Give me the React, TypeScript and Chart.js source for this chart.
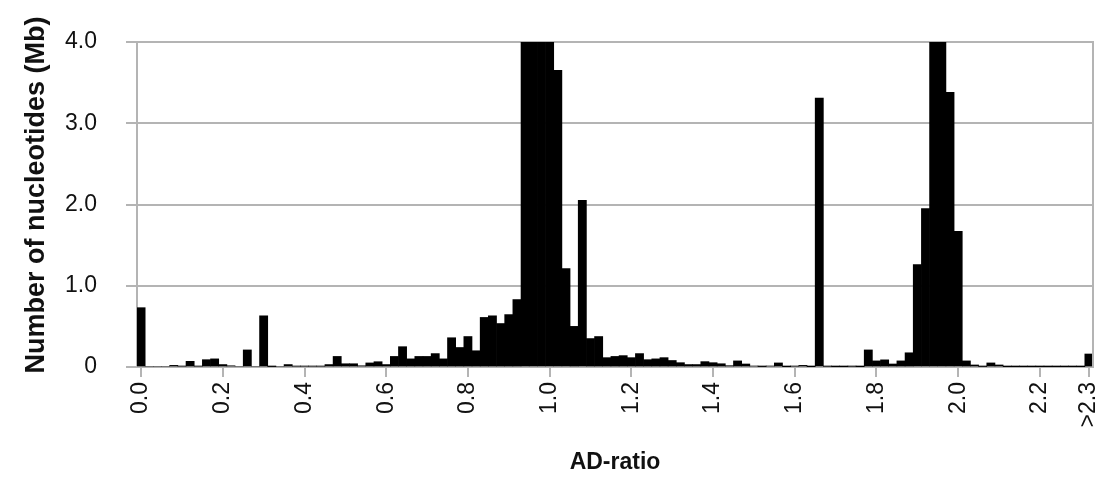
import React, { useEffect, useRef } from "react";
import { Chart, registerables } from "chart.js";

Chart.register(...registerables);

// AD-ratio bins of width 0.02 from 0.00 to 2.30, plus an overflow bin ">2.3"
const categories: string[] = [...Array(116).keys()]
  .map((i) => (i * 0.02).toFixed(2))
  .concat([">2.3"]);

// Number of nucleotides (Mb) per bin
const nucleotidesMb: number[] = [
  0.73, 0, 0, 0, 0.02, 0.01, 0.07, 0.01, 0.09, 0.1,
  0.03, 0.015, 0, 0.21, 0, 0.63, 0.005, 0, 0.03, 0.01,
  0.01, 0.01, 0.01, 0.03, 0.13, 0.04, 0.04, 0.015, 0.05, 0.065,
  0.03, 0.13, 0.25, 0.1, 0.13, 0.13, 0.165, 0.1, 0.36, 0.24,
  0.375, 0.2, 0.61, 0.63, 0.535, 0.645, 0.83, 4.6, 5.9, 5.5,
  4.8, 3.65, 1.21, 0.5, 2.05, 0.35, 0.375, 0.115, 0.13, 0.14,
  0.115, 0.165, 0.09, 0.1, 0.115, 0.08, 0.053, 0.03, 0.03, 0.066,
  0.053, 0.04, 0.016, 0.075, 0.037, 0.012, 0.005, 0.012, 0.05, 0.004,
  0.01, 0.02, 0.003, 3.31, 0.008, 0.003, 0.003, 0.008, 0.004, 0.21,
  0.075, 0.088, 0.037, 0.075, 0.175, 1.26, 1.95, 4.9, 4.3, 3.38,
  1.67, 0.075, 0.025, 0.006, 0.05, 0.025, 0.004, 0.002, 0.004, 0.004,
  0.004, 0.002, 0.004, 0.004, 0.004, 0.004, 0.16,
];

// Which categories carry a tick label, and the label text
const tickIndices: number[] = [0, 10, 20, 30, 40, 50, 60, 70, 80, 90, 100, 110, 116];
const tickTexts: string[] = ["0.0", "0.2", "0.4", "0.6", "0.8", "1.0", "1.2", "1.4", "1.6", "1.8", "2.0", "2.2", ">2.3"];

const yTickValues: number[] = [0, 1, 2, 3, 4];
const yTickTexts: string[] = ["0", "1.0", "2.0", "3.0", "4.0"];

const yTitle = "Number of nucleotides (Mb)";
const xTitle = "AD-ratio";

const GRAY = "#b4b4b4";
const FONT = "'Liberation Sans', Arial, sans-serif";

const frameBorder = {
  id: "frameBorder",
  afterDatasetsDraw(chart: any) {
    const { ctx, chartArea } = chart;
    ctx.save();
    ctx.strokeStyle = GRAY;
    ctx.lineWidth = 2;
    ctx.beginPath();
    ctx.moveTo(chartArea.right, chartArea.top - 1);
    ctx.lineTo(chartArea.right, chartArea.bottom);
    ctx.stroke();
    ctx.restore();
  },
  afterDraw(chart: any) {
    const { ctx } = chart;
    ctx.save();
    ctx.translate(37, 195);
    ctx.rotate(-Math.PI / 2);
    ctx.font = `bold 27px ${FONT}`;
    ctx.fillStyle = "#111";
    ctx.textAlign = "center";
    ctx.textBaseline = "middle";
    ctx.fillText(yTitle, 0, 0);
    ctx.restore();
  },
};

export default function App() {
  const ref = useRef<HTMLCanvasElement | null>(null);

  useEffect(() => {
    if (!ref.current) return;
    const labelFor = (i: number) => {
      const k = tickIndices.indexOf(i);
      return k >= 0 ? tickTexts[k] : "";
    };
    const chart = new Chart(ref.current, {
      type: "bar",
      data: {
        labels: categories,
        datasets: [
          {
            data: nucleotidesMb,
            backgroundColor: "#000000",
            borderWidth: 0,
            barPercentage: 1,
            categoryPercentage: 1,
          },
        ],
      },
      plugins: [frameBorder],
      options: {
        animation: false,
        responsive: true,
        maintainAspectRatio: false,
        layout: { padding: { top: 42, right: 14, bottom: 0, left: 0 } },
        plugins: {
          legend: { display: false },
          tooltip: { enabled: false },
        },
        scales: {
          x: {
            z: 1,
            grid: {
              offset: false,
              drawOnChartArea: false,
              drawTicks: true,
              tickLength: 10,
              lineWidth: 2,
              color: (c: any) => (tickIndices.includes(c.index) ? GRAY : "rgba(0,0,0,0)"),
            },
            border: { display: true, color: GRAY, width: 2 },
            ticks: {
              autoSkip: false,
              maxRotation: 90,
              minRotation: 90,
              padding: 5,
              color: "#111",
              font: { family: FONT, size: 23 },
              callback: (_v: any, i: number) => labelFor(i),
            },
            title: {
              display: true,
              text: xTitle,
              color: "#111",
              font: { family: FONT, size: 23, weight: "bold" },
              padding: { top: 0, bottom: 3 },
            },
            afterFit: (s: any) => {
              s.height = 112;
              s.paddingLeft = 0;
              s.paddingRight = 0;
            },
          },
          y: {
            min: 0,
            max: 4,
            afterBuildTicks: (s: any) => {
              s.ticks = yTickValues.map((v) => ({ value: v }));
            },
            grid: {
              color: GRAY,
              lineWidth: 2,
              tickLength: 11,
            },
            border: { display: true, color: GRAY, width: 2 },
            ticks: {
              padding: 29,
              color: "#111",
              font: { family: FONT, size: 23 },
              callback: (v: any) => {
                const k = yTickValues.indexOf(Number(v));
                return k >= 0 ? yTickTexts[k] : "";
              },
            },
            afterFit: (s: any) => {
              s.width = 137;
              s.paddingTop = 0;
              s.paddingBottom = 0;
            },
          },
        },
      },
    });
    return () => chart.destroy();
  }, []);

  return (
    <div style={{ position: "fixed", left: 0, top: 0, width: 1107, height: 479, background: "#fff" }}>
      <canvas ref={ref} />
    </div>
  );
}
